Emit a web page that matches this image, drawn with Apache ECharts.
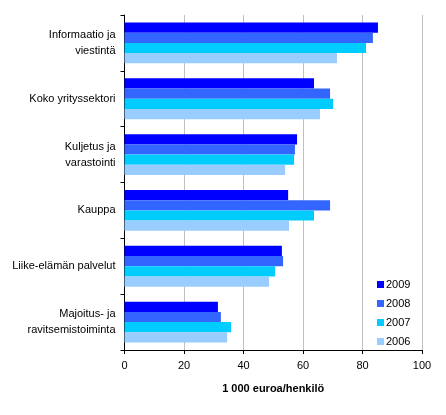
<!DOCTYPE html>
<html>
<head>
<meta charset="utf-8">
<script src="https://cdn.jsdelivr.net/npm/echarts@6/dist/echarts.min.js"></script>
<style>
  html, body { margin: 0; padding: 0; background: #fff; }
  #chart { width: 446px; height: 415px; }
</style>
</head>
<body>
<div id="chart"></div>
<script>
// toimialat (ylhäältä alas)
var categories = [
    'Informaatio ja\nviestintä',
    'Koko yrityssektori',
    'Kuljetus ja\nvarastointi',
    'Kauppa',
    'Liike-elämän palvelut',
    'Majoitus- ja\nravitsemistoiminta'
];
var years = ['2009', '2008', '2007', '2006'];
var colors = ['#0000FF', '#3366FF', '#00CCFF', '#99CCFF'];

// 1 000 euroa/henkilö
var v2009 = [85.2, 63.7, 58.0, 55.0, 52.9, 31.4];
var v2008 = [83.5, 69.1, 57.3, 69.1, 53.3, 32.4];
var v2007 = [81.2, 70.1, 57.0, 63.7, 50.6, 35.8];
var v2006 = [71.4, 65.7, 54.0, 55.3, 48.6, 34.5];
var values = [v2009, v2008, v2007, v2006];

var xTicks = [0, 20, 40, 60, 80, 100];

(function () {
    var myChart = echarts.init(document.getElementById('chart'));
    var series = [];
    for (let i = 0; i < years.length; i++) {
        series.push({
            name: years[i],
            type: 'bar',
            data: values[i],
            barGap: '0%',
            barCategoryGap: '27%',
            itemStyle: { color: colors[i] },
            animation: false
        });
    }
    var option = {
        backgroundColor: '#fff',
        textStyle: { fontFamily: 'Arial, "Liberation Sans", sans-serif' },
        grid: {
            left: 124.5,
            right: 24,
            top: 15,
            bottom: 65
        },
        legend: {
            orient: 'vertical',
            left: 373,
            top: 277,
            data: years,
            icon: 'rect',
            itemWidth: 7,
            itemHeight: 7,
            itemGap: 8,
            padding: [2, 4, 2, 4],
            backgroundColor: '#fff',
            textStyle: { fontSize: 11, color: '#000', padding: [0, 0, 0, -3] }
        },
        xAxis: {
            type: 'value',
            min: xTicks[0],
            max: xTicks[xTicks.length - 1],
            interval: 20,
            name: '1 000 euroa/henkilö',
            nameLocation: 'middle',
            nameGap: 33,
            nameTextStyle: { fontSize: 11, fontWeight: 'bold', color: '#000' },
            axisLine: { show: true, lineStyle: { color: '#000', width: 1 } },
            axisTick: { show: true, length: 4, lineStyle: { color: '#000' } },
            axisLabel: { fontSize: 11, color: '#000', margin: 10 },
            splitLine: { show: true, lineStyle: { color: '#C0C0C0', width: 1 } }
        },
        yAxis: {
            type: 'category',
            inverse: true,
            data: categories,
            axisLine: { show: true, lineStyle: { color: '#000', width: 1 } },
            axisTick: { show: true, length: 4, lineStyle: { color: '#000' } },
            axisLabel: { fontSize: 11, color: '#000', margin: 9, lineHeight: 16, align: 'right' },
            splitLine: { show: false }
        },
        series: series
    };
    myChart.setOption(option);
})();
</script>
</body>
</html>
